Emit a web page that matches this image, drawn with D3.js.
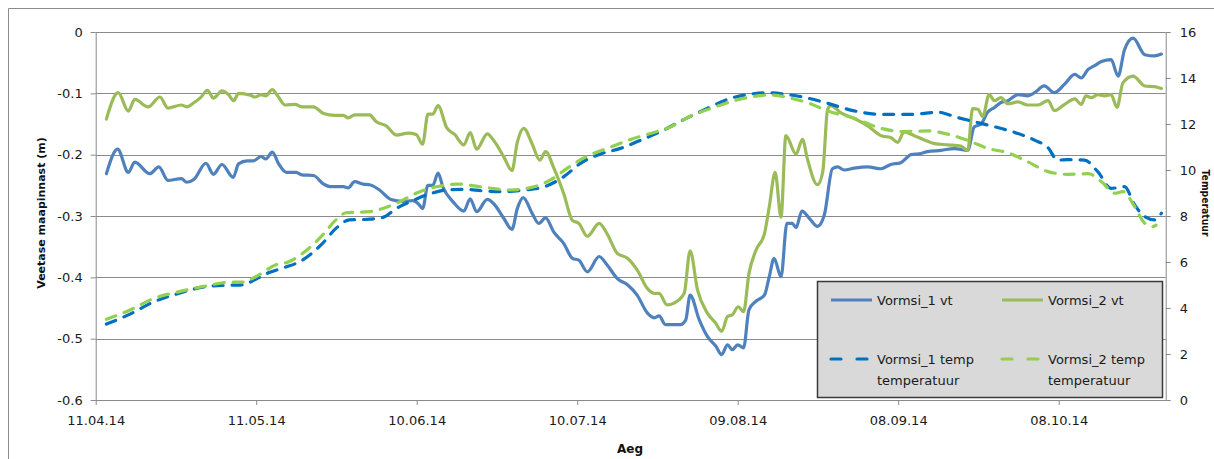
<!DOCTYPE html>
<html>
<head>
<meta charset="utf-8">
<script src="https://cdn.jsdelivr.net/npm/d3@7/dist/d3.min.js"></script>
<style>
  html, body { margin: 0; padding: 0; background: #fff; }
  svg { display: block; font-family: "DejaVu Sans", sans-serif; }
</style>
</head>
<body>
<svg id="chart" width="1214" height="459"></svg>
<script>
// Measurement series: time in days since 11.04.2014, values per series.
const startDate = "11.04.14";
const xTickLabels = ["11.04.14", "11.05.14", "10.06.14", "10.07.14", "09.08.14", "08.09.14", "08.10.14"];
const xEndDate = "28.10.14";
const levelTicks = [0, -0.1, -0.2, -0.3, -0.4, -0.5, -0.6];
const tempTicks = [0, 2, 4, 6, 8, 10, 12, 14, 16];

// Vormsi_1 vt — water level below ground (m)
const vt1Days = [2.0, 4.1, 6.1, 7.3, 10.1, 11.8, 13.5, 16.0, 17.0, 18.4, 20.6, 22.0, 23.6, 25.7, 26.7, 28.3, 29.5, 30.9, 31.8, 33.0,
  34.2, 35.7, 37.5, 38.5, 40.7, 42.6, 43.8, 46.3, 47.2, 48.4, 50.0, 51.2, 53.1, 55.2, 57.4, 59.3, 60.3, 61.1, 62.1, 63.0,
  64.0, 64.9, 66.8, 68.8, 70.0, 71.2, 73.2, 74.4, 76.3, 77.8, 78.8, 79.9, 81.6, 82.8, 84.1, 85.6, 87.5, 89.1, 90.3, 91.9,
  94.1, 95.6, 97.5, 99.4, 101.2, 103.1, 104.4, 105.3, 106.5, 109.3, 110.3, 111.1, 112.8, 114.3, 115.9, 117.0, 118.1, 119.0, 120.0, 121.1,
  122.1, 123.4, 125.0, 125.9, 126.8, 128.1, 129.2, 130.2, 130.9, 132.0, 133.5, 134.9, 136.2, 137.7, 138.7, 139.9, 141.8, 144.3, 146.8, 148.6,
  150.5, 152.4, 154.3, 155.5, 158.0, 160.5, 163.0, 164.2, 165.5, 166.7, 168.0, 169.2, 170.5, 172.4, 174.2, 175.5, 177.3, 179.2, 181.1, 183.0,
  184.2, 185.5, 186.7, 188.0, 189.8, 191.1, 192.3, 193.9, 196.1, 197.9, 199.2];
const vt1 = [-0.231, -0.191, -0.229, -0.212, -0.231, -0.220, -0.242, -0.239, -0.245, -0.240, -0.214, -0.232, -0.216, -0.237, -0.215, -0.210, -0.210, -0.203, -0.207, -0.196,
  -0.215, -0.229, -0.229, -0.233, -0.234, -0.248, -0.252, -0.252, -0.254, -0.244, -0.248, -0.249, -0.258, -0.273, -0.276, -0.275, -0.280, -0.288, -0.250, -0.250,
  -0.230, -0.253, -0.277, -0.292, -0.272, -0.293, -0.273, -0.280, -0.304, -0.322, -0.288, -0.270, -0.296, -0.312, -0.303, -0.326, -0.345, -0.369, -0.372, -0.391,
  -0.366, -0.380, -0.402, -0.412, -0.429, -0.458, -0.466, -0.463, -0.477, -0.477, -0.469, -0.429, -0.469, -0.496, -0.512, -0.526, -0.510, -0.518, -0.510, -0.515,
  -0.453, -0.439, -0.429, -0.399, -0.369, -0.399, -0.312, -0.312, -0.319, -0.292, -0.305, -0.317, -0.298, -0.223, -0.220, -0.225, -0.222, -0.220, -0.223, -0.216,
  -0.213, -0.200, -0.198, -0.195, -0.193, -0.190, -0.193, -0.155, -0.150, -0.131, -0.123, -0.115, -0.112, -0.102, -0.104, -0.099, -0.088, -0.099, -0.085, -0.069,
  -0.075, -0.061, -0.055, -0.048, -0.045, -0.072, -0.029, -0.010, -0.037, -0.039, -0.036];

// Vormsi_2 vt — water level below ground (m)
const vt2Days = [2.0, 4.2, 6.1, 7.3, 9.8, 12.0, 13.5, 16.0, 17.0, 18.4, 19.6, 20.9, 22.0, 23.6, 24.8, 25.8, 26.7, 28.9, 29.8, 30.9,
  31.8, 33.0, 34.0, 35.4, 37.3, 38.5, 40.7, 42.6, 44.7, 46.3, 47.2, 48.4, 51.2, 52.4, 54.3, 56.2, 58.4, 59.9, 61.1, 62.1,
  63.0, 64.0, 65.6, 67.1, 68.8, 70.0, 71.2, 73.2, 74.4, 76.3, 77.8, 78.8, 80.0, 81.6, 83.0, 84.1, 85.6, 87.5, 89.1, 90.3,
  91.9, 94.1, 95.6, 97.5, 99.4, 101.2, 103.1, 104.4, 105.3, 106.8, 108.1, 110.0, 111.1, 112.5, 114.3, 115.9, 117.0, 118.1, 119.0, 120.1,
  121.1, 122.1, 123.4, 125.0, 125.9, 127.0, 128.1, 129.0, 130.9, 132.1, 133.0, 134.9, 135.9, 136.8, 137.4, 139.3, 141.8, 144.3, 146.8, 148.6,
  149.9, 151.1, 153.0, 154.9, 156.8, 159.3, 161.7, 163.0, 163.9, 164.9, 165.8, 167.0, 168.0, 169.2, 170.5, 172.4, 174.2, 176.1, 178.0, 179.2,
  181.1, 183.0, 184.2, 185.1, 186.1, 187.3, 188.6, 189.8, 190.9, 192.0, 193.9, 196.1, 197.9, 199.2];
const vt2 = [-0.142, -0.099, -0.129, -0.110, -0.122, -0.106, -0.124, -0.119, -0.122, -0.115, -0.107, -0.095, -0.108, -0.096, -0.102, -0.112, -0.100, -0.103, -0.106, -0.102,
  -0.104, -0.094, -0.104, -0.119, -0.118, -0.122, -0.122, -0.133, -0.136, -0.136, -0.140, -0.135, -0.135, -0.146, -0.153, -0.168, -0.165, -0.167, -0.183, -0.134,
  -0.134, -0.120, -0.156, -0.167, -0.184, -0.164, -0.191, -0.166, -0.177, -0.204, -0.226, -0.180, -0.157, -0.183, -0.209, -0.195, -0.221, -0.264, -0.307, -0.312,
  -0.333, -0.312, -0.329, -0.361, -0.369, -0.388, -0.418, -0.426, -0.426, -0.445, -0.442, -0.426, -0.357, -0.421, -0.458, -0.475, -0.488, -0.464, -0.461, -0.448,
  -0.456, -0.394, -0.356, -0.329, -0.285, -0.229, -0.302, -0.169, -0.199, -0.175, -0.206, -0.249, -0.228, -0.126, -0.120, -0.132, -0.141, -0.153, -0.169, -0.172,
  -0.180, -0.163, -0.169, -0.176, -0.182, -0.184, -0.186, -0.193, -0.125, -0.126, -0.138, -0.102, -0.112, -0.107, -0.117, -0.114, -0.119, -0.119, -0.112, -0.128,
  -0.118, -0.109, -0.118, -0.104, -0.107, -0.102, -0.104, -0.102, -0.123, -0.083, -0.072, -0.088, -0.089, -0.092];

// Vormsi_1 temp temperatuur (°C)
const t1Days = [2.0, 6.1, 10.9, 15.6, 20.6, 25.0, 27.5, 29.9, 32.4, 34.9, 38.7, 42.4, 44.9, 47.4, 51.2, 53.7, 56.2, 59.3, 61.8, 65.6,
  68.8, 72.5, 75.6, 80.0, 83.8, 87.5, 90.6, 94.4, 98.1, 101.9, 106.2, 110.0, 113.7, 118.7, 122.4, 125.0, 128.7, 132.4, 136.8, 141.8,
  146.8, 152.4, 157.4, 161.1, 164.2, 168.0, 171.7, 175.5, 178.0, 179.8, 181.7, 184.8, 187.3, 189.8, 192.3, 194.2, 196.1, 197.9, 199.2];
const t1 = [3.30, 3.70, 4.27, 4.64, 4.93, 4.99, 5.01, 5.25, 5.54, 5.73, 6.09, 6.81, 7.46, 7.83, 7.86, 7.94, 8.33, 8.67, 8.91, 9.13,
  9.16, 9.09, 9.06, 9.13, 9.27, 9.71, 10.29, 10.70, 10.94, 11.30, 11.74, 12.20, 12.61, 13.12, 13.30, 13.36, 13.30, 13.16, 12.90, 12.57,
  12.42, 12.42, 12.51, 12.28, 12.10, 11.88, 11.64, 11.30, 10.97, 10.43, 10.45, 10.43, 9.93, 9.20, 9.28, 8.48, 7.97, 7.83, 8.12];

// Vormsi_2 temp temperatuur (°C)
const t2Days = [2.0, 6.1, 10.9, 15.6, 20.6, 25.0, 27.5, 29.9, 33.6, 36.1, 38.7, 42.4, 44.9, 46.8, 51.2, 53.7, 56.2, 59.9, 62.4, 65.6,
  67.5, 72.5, 77.5, 81.9, 85.0, 88.1, 91.9, 95.6, 100.0, 103.7, 107.5, 111.2, 115.0, 119.3, 123.7, 126.2, 130.0, 133.7, 136.8, 141.8,
  146.8, 151.1, 155.5, 159.9, 163.6, 166.7, 170.5, 174.2, 178.0, 181.7, 185.5, 188.0, 190.5, 192.0, 194.2, 196.1, 197.6, 198.2];
const t2 = [3.51, 3.88, 4.42, 4.71, 4.96, 5.12, 5.13, 5.36, 5.87, 6.01, 6.38, 7.17, 7.83, 8.14, 8.19, 8.33, 8.55, 8.99, 9.20, 9.35,
  9.39, 9.25, 9.13, 9.27, 9.57, 10.07, 10.61, 10.94, 11.33, 11.59, 11.88, 12.35, 12.68, 13.01, 13.22, 13.26, 13.12, 12.87, 12.57, 12.25,
  11.81, 11.67, 11.70, 11.52, 11.23, 10.94, 10.75, 10.36, 9.93, 9.81, 9.84, 9.49, 8.99, 9.06, 8.41, 7.68, 7.54, 7.60];

const parseDate = d3.utcParse("%d.%m.%y");
const t0 = parseDate(startDate);
const toDate = d => new Date(t0.getTime() + d * 86400000);

const svg = d3.select("#chart");
const W = 1214, H = 459;
const plot = { left: 95.7, right: 1165.7, top: 32, bottom: 400 };

// Outer chart-area frame
svg.append("path")
  .attr("d", `M8.5,${H} V8.5 H${W}`)
  .attr("fill", "none").attr("stroke", "#8c8c8c").attr("stroke-width", 1);

const x = d3.scaleUtc().domain([t0, parseDate(xEndDate)]).range([plot.left, plot.right]);
const yL = d3.scaleLinear().domain([-0.6, 0]).range([plot.bottom, plot.top]);
const yR = d3.scaleLinear().domain([0, 16]).range([plot.bottom, plot.top]);

// Horizontal gridlines from the left axis
svg.append("g")
  .selectAll("line").data(levelTicks).join("line")
  .attr("x1", plot.left).attr("x2", plot.right)
  .attr("y1", d => Math.round(yL(d)) + 0.5).attr("y2", d => Math.round(yL(d)) + 0.5)
  .attr("stroke", "#8a8a8a").attr("stroke-width", 1);

const axisColor = "#8a8a8a";
const tickFont = 13;

// Left axis
const gL = svg.append("g").attr("transform", `translate(${plot.left},0)`)
  .call(d3.axisLeft(yL).tickValues(levelTicks).tickSize(5).tickSizeOuter(0)
    .tickFormat(d => d === 0 ? "0" : d3.format(".1f")(d).replace("−", "-")));
// Right axis
const gR = svg.append("g").attr("transform", `translate(${plot.right},0)`)
  .call(d3.axisRight(yR).tickValues(tempTicks).tickSize(5).tickSizeOuter(0).tickFormat(d3.format("d")));
// Bottom axis
const xTicks = xTickLabels.map(parseDate);
const gB = svg.append("g").attr("transform", `translate(0,${plot.bottom})`)
  .call(d3.axisBottom(x).tickValues(xTicks).tickSize(5).tickSizeOuter(0).tickFormat(d3.utcFormat("%d.%m.%y")));

[gL, gR, gB].forEach(g => {
  g.select(".domain").attr("stroke", axisColor);
  g.selectAll(".tick line").attr("stroke", axisColor);
  g.selectAll(".tick text").attr("fill", "#1a1a1a")
    .style("font-family", "'DejaVu Sans', sans-serif").style("font-size", tickFont + "px");
});
gL.selectAll(".tick text").attr("x", -13);
gR.selectAll(".tick text").attr("x", 14);
gB.selectAll(".tick text").attr("y", 16);
gB.select(".domain").attr("d", `M${plot.left},0.5H${plot.right}`);

// Axis titles
svg.append("text")
  .attr("transform", `translate(45,213) rotate(-90)`)
  .attr("text-anchor", "middle")
  .style("font-size", "11px").style("font-weight", "bold").attr("fill", "#111")
  .text("Veetase maapinnast (m)");
svg.append("text")
  .attr("transform", `translate(1202,203) rotate(90)`)
  .attr("text-anchor", "middle")
  .attr("textLength", 67).attr("lengthAdjust", "spacingAndGlyphs")
  .style("font-size", "11px").style("font-weight", "bold").attr("fill", "#111")
  .text("Temperatuur");
svg.append("text")
  .attr("x", 630).attr("y", 453)
  .attr("text-anchor", "middle")
  .style("font-size", "12px").style("font-weight", "bold").attr("fill", "#111")
  .text("Aeg");

// Series
const series = [
  { name: "Vormsi_1 vt", days: vt1Days, vals: vt1, y: yL, color: "#4F81BD", dash: null },
  { name: "Vormsi_2 vt", days: vt2Days, vals: vt2, y: yL, color: "#9BBB59", dash: null },
  { name: "Vormsi_1 temp", sub: "temperatuur", days: t1Days, vals: t1, y: yR, color: "#0070C0", dash: "10,9" },
  { name: "Vormsi_2 temp", sub: "temperatuur", days: t2Days, vals: t2, y: yR, color: "#92D050", dash: "10,9" }
];

series.forEach(s => {
  const pts = s.days.map((d, i) => [toDate(d), s.vals[i]]);
  const line = d3.line().x(p => x(p[0])).y(p => s.y(p[1])).curve(d3.curveMonotoneX);
  svg.append("path")
    .datum(pts)
    .attr("d", line)
    .attr("fill", "none")
    .attr("stroke", s.color)
    .attr("stroke-width", 3.2)
    .attr("stroke-linejoin", "round")
    .attr("stroke-linecap", "round")
    .attr("stroke-dasharray", s.dash);
});

// Legend
const lg = svg.append("g");
lg.append("rect")
  .attr("x", 817.5).attr("y", 281.5).attr("width", 345).attr("height", 116)
  .attr("fill", "#d9d9d9").attr("stroke", "#3a3a3a").attr("stroke-width", 1.5);

const legendPos = [
  { x: 831, y: 300 }, { x: 1002, y: 300 },
  { x: 831, y: 359 }, { x: 1002, y: 359 }
];
series.forEach((s, i) => {
  const p = legendPos[i];
  lg.append("line")
    .attr("x1", p.x).attr("x2", p.x + 41)
    .attr("y1", p.y).attr("y2", p.y)
    .attr("stroke", s.color).attr("stroke-width", 3.2)
    .attr("stroke-linecap", s.dash ? "round" : "butt")
    .attr("stroke-dasharray", s.dash ? "10,16" : null);
  lg.append("text")
    .attr("x", p.x + 46).attr("y", p.y + 5)
    .style("font-size", "13px").attr("fill", "#1a1a1a")
    .text(s.name);
  if (s.sub) {
    lg.append("text")
      .attr("x", p.x + 46).attr("y", p.y + 26)
      .style("font-size", "13px").attr("fill", "#1a1a1a")
      .text(s.sub);
  }
});
</script>
</body>
</html>
